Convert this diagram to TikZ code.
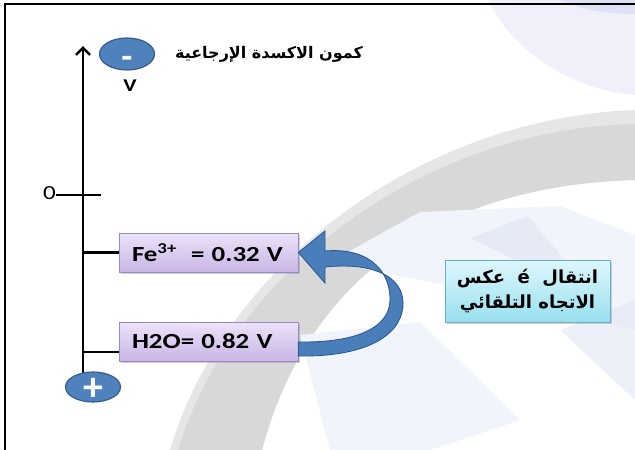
\documentclass[tikz,border=0pt]{standalone}
\usepackage{fontspec}
\setmainfont{Carlito}
\newfontfamily\widefont[FakeStretch=1.25]{Carlito}
\newfontfamily\arabicfont[Script=Arabic]{DejaVu Sans}
\TeXXeTstate=1
\usetikzlibrary{shadows,arrows.meta,shapes.geometric}
\definecolor{ellblue}{HTML}{4F81BD}
\definecolor{elledge}{HTML}{385D8A}
\definecolor{arrblue}{HTML}{4A7EBB}
\definecolor{arredge}{HTML}{2C5A8C}
\definecolor{lavtop}{HTML}{ECE2F8}
\definecolor{lavbot}{HTML}{C9B6E6}
\definecolor{lavedge}{HTML}{9A88C8}
\definecolor{cyantop}{HTML}{DDF7FC}
\definecolor{cyanbot}{HTML}{98E0EF}
\definecolor{cyanedge}{HTML}{6AAFC4}
\definecolor{ringgray}{HTML}{D8D8D8}
\definecolor{ringlight}{HTML}{E6E6E6}
\definecolor{facet}{HTML}{F2F4FB}
\definecolor{facetblue}{HTML}{E6EAF7}
\definecolor{lavbg}{HTML}{F0F0FB}
\definecolor{lavbgdark}{HTML}{D8D8F2}
\tikzset{
  signell/.style={ellipse, draw=elledge, line width=1.2pt, fill=ellblue, minimum width=55pt, minimum height=32pt, inner sep=0pt, text=white},
  valbox/.style={draw=lavedge, line width=0.8pt, top color=lavtop, bottom color=lavbot, minimum height=39pt, text width=153pt, inner xsep=13pt, inner ysep=0pt, align=left, font=\widefont\bfseries\fontsize{21.5}{22}\selectfont, drop shadow={shadow xshift=1.5pt, shadow yshift=-1.5pt, opacity=0.35}},
  notebox/.style={draw=cyanedge, line width=0.8pt, top color=cyantop, bottom color=cyanbot, minimum width=165pt, minimum height=62pt, inner sep=0pt, align=center, font=\arabicfont\bfseries\fontsize{18}{25}\selectfont, drop shadow={shadow xshift=1.5pt, shadow yshift=-1.5pt, opacity=0.35}},
  axisline/.style={line width=2.6pt, black},
  tickline/.style={line width=2.2pt, black},
}
\begin{document}
\begin{tikzpicture}[x=1pt, y=-1pt]
\useasboundingbox (0,0) rectangle (635,450);
\fill[white] (0,0) rectangle (635,450);
% background watermark
\fill[lavbg] (488,0) .. controls (515,55) and (575,90) .. (635,95) -- (635,0) -- cycle;
\fill[lavbgdark, opacity=0.6] (560,0) .. controls (580,10) and (610,14) .. (635,14) -- (635,0) -- cycle;
\fill[ringlight] (170,450) .. controls (225,265) and (420,118) .. (635,110) -- (635,180) .. controls (450,185) and (310,270) .. (262,450) -- cycle;
\fill[ringgray] (178,450) .. controls (232,272) and (425,128) .. (635,124) -- (635,180) .. controls (450,185) and (310,270) .. (262,450) -- cycle;
\fill[facet] (330,262) -- (420,212) -- (560,206) -- (635,235) -- (635,330) -- (520,300) -- cycle;
\fill[facetblue] (470,238) -- (528,216) -- (598,300) -- cycle;
\fill[facet] (300,335) -- (420,322) -- (520,420) -- (430,450) -- (330,450) -- cycle;
\fill[facetblue, opacity=0.7] (560,330) -- (635,300) -- (635,400) -- cycle;
% frame
\draw[line width=1.5pt, black] (635,4) -- (5,4) -- (5,450);
% axis
\coordinate (axtop) at (83,46);
\coordinate (axbot) at (83,376);
\draw[axisline, -{Straight Barb[length=7pt,width=14pt,line width=2.6pt]}] (axbot) -- (axtop);
% zero tick
\node[font=\widefont\fontsize{20}{20}\selectfont, inner sep=0pt, anchor=east] (zero) at (56,193) {0};
\coordinate (tickend) at (101,195);
\draw[tickline, line width=1.8pt] (zero.east |- tickend) -- (tickend);
% sign ellipses
\node[signell, font=\bfseries\fontsize{36}{36}\selectfont] (neg) at (127,54) {\smash{\raisebox{-14pt}{-}}};
\node[signell, minimum height=30pt, font=\bfseries\fontsize{40}{40}\selectfont] (pos) at (93,387) {\smash{\raisebox{-13pt}{+}}};
\node[font=\widefont\bfseries\fontsize{18}{18}\selectfont, inner sep=0pt] (vlab) at (130,86) {V};
\node[font=\arabicfont\bfseries\fontsize{16}{16}\selectfont, inner sep=0pt] (title) at (269,54) {\beginR كمون الاكسدة الإرجاعية\endR};
% value boxes
\node[valbox] (fe) at (208.5,252.5) {Fe\textsuperscript{3+}\ \ = 0.32 V};
\node[valbox] (h2o) at (208.5,341.5) {H2O= 0.82 V};
\coordinate (feax) at (83,252.5);
\coordinate (h2oax) at (83,352);
\draw[tickline] (feax) -- (fe.west);
\draw[tickline] (h2oax) -- (h2oax -| h2o.west);
% curved arrow
\draw[draw=arredge, line width=0.9pt, fill=arrblue]
  (h2o.east |- 0,356) .. controls (372,357) and (404,332) .. (403,302)
  .. controls (402,276) and (372,262) .. (325,267)
  -- (325,283) -- (fe.east) -- (325,231) -- (325,251)
  .. controls (374,247) and (391,276) .. (390,301)
  .. controls (389,326) and (360,343) .. (h2o.east |- 0,342) -- cycle;
% note box
\node[notebox] (note) at (527.5,291) {\beginR انتقال\ \ é\ \ عكس\endR\\\beginR الاتجاه التلقائي\endR};
\end{tikzpicture}
\end{document}
